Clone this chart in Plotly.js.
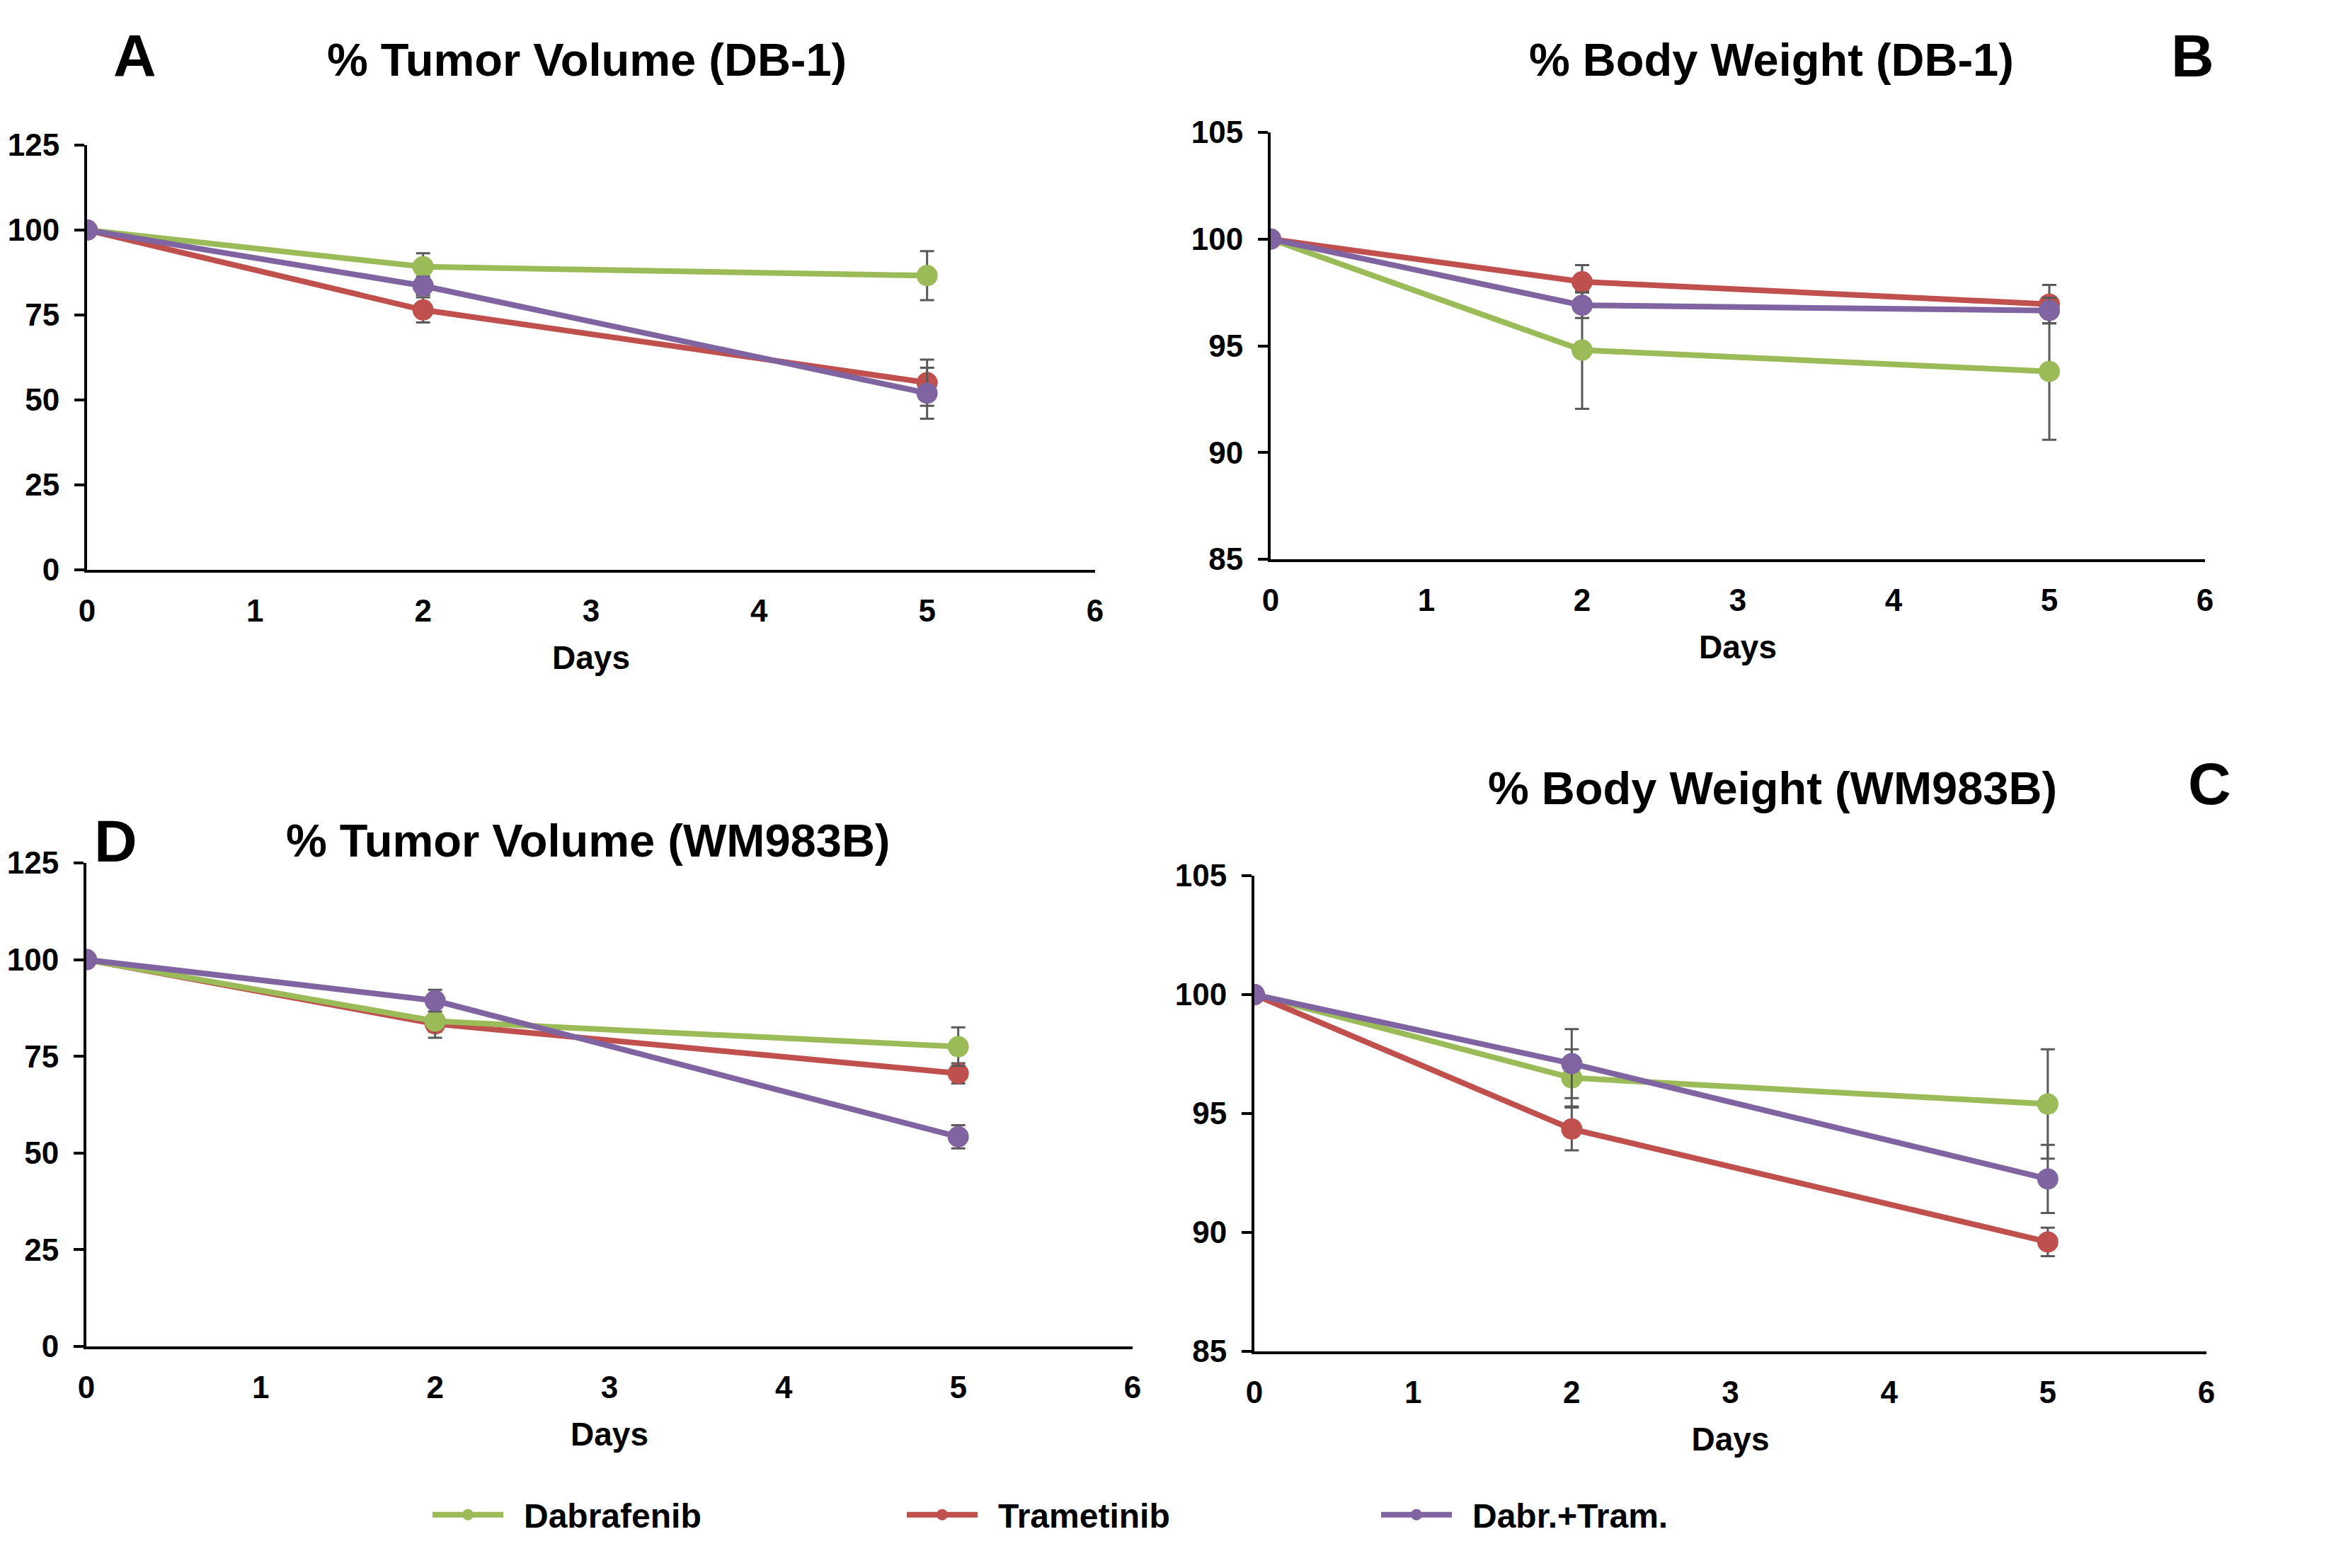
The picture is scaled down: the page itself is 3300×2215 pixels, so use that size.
<!DOCTYPE html>
<html>
<head>
<meta charset="utf-8">
<script src="https://cdn.plot.ly/plotly-3.0.1.min.js"></script>
<style>html,body{margin:0;padding:0;background:#fff;}#chart{width:3300px;height:2215px;}</style>
</head>
<body>
<div id="chart"></div>
<script>
// ---- data ----
const days = [0, 2, 5];
const seriesNames = ["Dabrafenib", "Trametinib", "Dabr.+Tram."];

// Panel A: % Tumor Volume (DB-1)
const tvDB1_dab = [100, 89.2, 86.6];
const tvDB1_dabErr = [0, 4.0, 7.2];
const tvDB1_tram = [100, 76.5, 55.1];
const tvDB1_tramErr = [0, 3.7, 6.8];
const tvDB1_combo = [100, 83.6, 52.0];
const tvDB1_comboErr = [0, 2.7, 7.5];

// Panel B: % Body Weight (DB-1)
const bwDB1_dab = [100, 94.8, 93.8];
const bwDB1_dabErr = [0, 2.75, 3.2];
const bwDB1_tram = [100, 98.0, 96.95];
const bwDB1_tramErr = [0, 0.78, 0.9];
const bwDB1_combo = [100, 96.9, 96.65];
const bwDB1_comboErr = [0, 0.6, 0.6];

// Panel D: % Tumor Volume (WM983B)
const tvWM_dab = [100, 84.1, 77.5];
const tvWM_dabErr = [0, 4.3, 5.0];
const tvWM_tram = [100, 83.4, 70.6];
const tvWM_tramErr = [0, 2.0, 2.6];
const tvWM_combo = [100, 89.4, 54.2];
const tvWM_comboErr = [0, 2.8, 3.0];

// Panel C: % Body Weight (WM983B)
const bwWM_dab = [100, 96.5, 95.4];
const bwWM_dabErr = [0, 1.2, 2.3];
const bwWM_tram = [100, 94.35, 89.6];
const bwWM_tramErr = [0, 0.9, 0.6];
const bwWM_combo = [100, 97.1, 92.25];
const bwWM_comboErr = [0, 1.45, 1.43];

const xTicks = [0, 1, 2, 3, 4, 5, 6];
const tvTicks = [0, 25, 50, 75, 100, 125];
const bwTicks = [85, 90, 95, 100, 105];

// ---- styling ----
const colors = {"Dabrafenib": "#9BBB59", "Trametinib": "#C0504D", "Dabr.+Tram.": "#8064A2"};
const FONT = "Liberation Sans, Arial, sans-serif";
const GAP = "\u2002";

function mk(name, y, err, xa, ya, showleg) {
  return {
    type: "scatter", mode: "lines+markers", name: GAP + name,
    x: days, y: y, xaxis: xa, yaxis: ya, showlegend: showleg, legendgroup: name,
    line: {color: colors[name], width: 8},
    marker: {color: colors[name], size: 30, symbol: "circle"},
    error_y: {type: "data", array: err, visible: true, color: "#595959", thickness: 3, width: 10}
  };
}

const traces = [
  mk(seriesNames[0], tvDB1_dab, tvDB1_dabErr, "x", "y", true),
  mk(seriesNames[1], tvDB1_tram, tvDB1_tramErr, "x", "y", true),
  mk(seriesNames[2], tvDB1_combo, tvDB1_comboErr, "x", "y", true),
  mk(seriesNames[0], bwDB1_dab, bwDB1_dabErr, "x2", "y2", false),
  mk(seriesNames[1], bwDB1_tram, bwDB1_tramErr, "x2", "y2", false),
  mk(seriesNames[2], bwDB1_combo, bwDB1_comboErr, "x2", "y2", false),
  mk(seriesNames[1], tvWM_tram, tvWM_tramErr, "x3", "y3", false),
  mk(seriesNames[0], tvWM_dab, tvWM_dabErr, "x3", "y3", false),
  mk(seriesNames[2], tvWM_combo, tvWM_comboErr, "x3", "y3", false),
  mk(seriesNames[0], bwWM_dab, bwWM_dabErr, "x4", "y4", false),
  mk(seriesNames[1], bwWM_tram, bwWM_tramErr, "x4", "y4", false),
  mk(seriesNames[2], bwWM_combo, bwWM_comboErr, "x4", "y4", false)
];

function xax(domain, anchor) {
  return {
    domain: domain, anchor: anchor, range: [0, 6], tickvals: xTicks, ticktext: xTicks.map(String),
    showgrid: false, zeroline: false, showline: true, linecolor: "#000", linewidth: 4,
    ticks: "", ticklabelstandoff: 16,
    tickfont: {family: FONT, size: 44, color: "#000", weight: "bold"},
    title: {text: "Days", standoff: 28, font: {family: FONT, size: 46, color: "#000", weight: "bold"}}
  };
}
function yax(domain, anchor, range, ticks) {
  return {
    domain: domain, anchor: anchor, range: range, tickvals: ticks, ticktext: ticks.map(String),
    showgrid: false, zeroline: false, showline: true, linecolor: "#000", linewidth: 4,
    ticks: "outside", ticklen: 14, tickwidth: 4, tickcolor: "#000", ticklabelstandoff: 12,
    tickfont: {family: FONT, size: 44, color: "#000", weight: "bold"}
  };
}

const W = 3300, H = 2215;
const layout = {
  width: W, height: H, paper_bgcolor: "#fff", plot_bgcolor: "rgba(0,0,0,0)",
  margin: {l: 0, r: 0, t: 0, b: 0},
  font: {family: FONT, color: "#000"},
  xaxis: xax([123 / W, 1547 / W], "y"),
  yaxis: yax([1 - 805 / H, 1 - 205 / H], "x", [0, 125], tvTicks),
  xaxis2: xax([1795 / W, 3115 / W], "y2"),
  yaxis2: yax([1 - 790 / H, 1 - 187 / H], "x2", [85, 105], bwTicks),
  xaxis3: xax([122 / W, 1600 / W], "y3"),
  yaxis3: yax([1 - 1902 / H, 1 - 1219 / H], "x3", [0, 125], tvTicks),
  xaxis4: xax([1772 / W, 3117 / W], "y4"),
  yaxis4: yax([1 - 1909 / H, 1 - 1237 / H], "x4", [85, 105], bwTicks),
  showlegend: true,
  legend: {
    orientation: "h", x: 606 / W, y: 1 - 2140 / H, xanchor: "left", yanchor: "middle",
    font: {family: FONT, size: 48, color: "#000", weight: "bold"},
    entrywidth: 555, entrywidthmode: "pixels", itemwidth: 100, bgcolor: "rgba(0,0,0,0)",
    traceorder: "normal"
  },
  annotations: [
    {text: "% Tumor Volume (DB-1)", x: 829 / W, y: 1 - 85 / H, size: 65},
    {text: "% Body Weight (DB-1)", x: 2502 / W, y: 1 - 85 / H, size: 65},
    {text: "% Tumor Volume (WM983B)", x: 830 / W, y: 1 - 1188 / H, size: 65},
    {text: "% Body Weight (WM983B)", x: 2504 / W, y: 1 - 1113 / H, size: 65},
    {text: "A", x: 190 / W, y: 1 - 79 / H, size: 84},
    {text: "B", x: 3097 / W, y: 1 - 79 / H, size: 84},
    {text: "D", x: 163 / W, y: 1 - 1188 / H, size: 84},
    {text: "C", x: 3121 / W, y: 1 - 1107 / H, size: 84}
  ].map(a => ({
    text: a.text, x: a.x, y: a.y, xref: "paper", yref: "paper", xanchor: "center", yanchor: "middle",
    showarrow: false, font: {family: FONT, size: a.size, color: "#000", weight: "bold"}
  }))
};

Plotly.newPlot("chart", traces, layout, {displayModeBar: false, staticPlot: true});
</script>
</body>
</html>
